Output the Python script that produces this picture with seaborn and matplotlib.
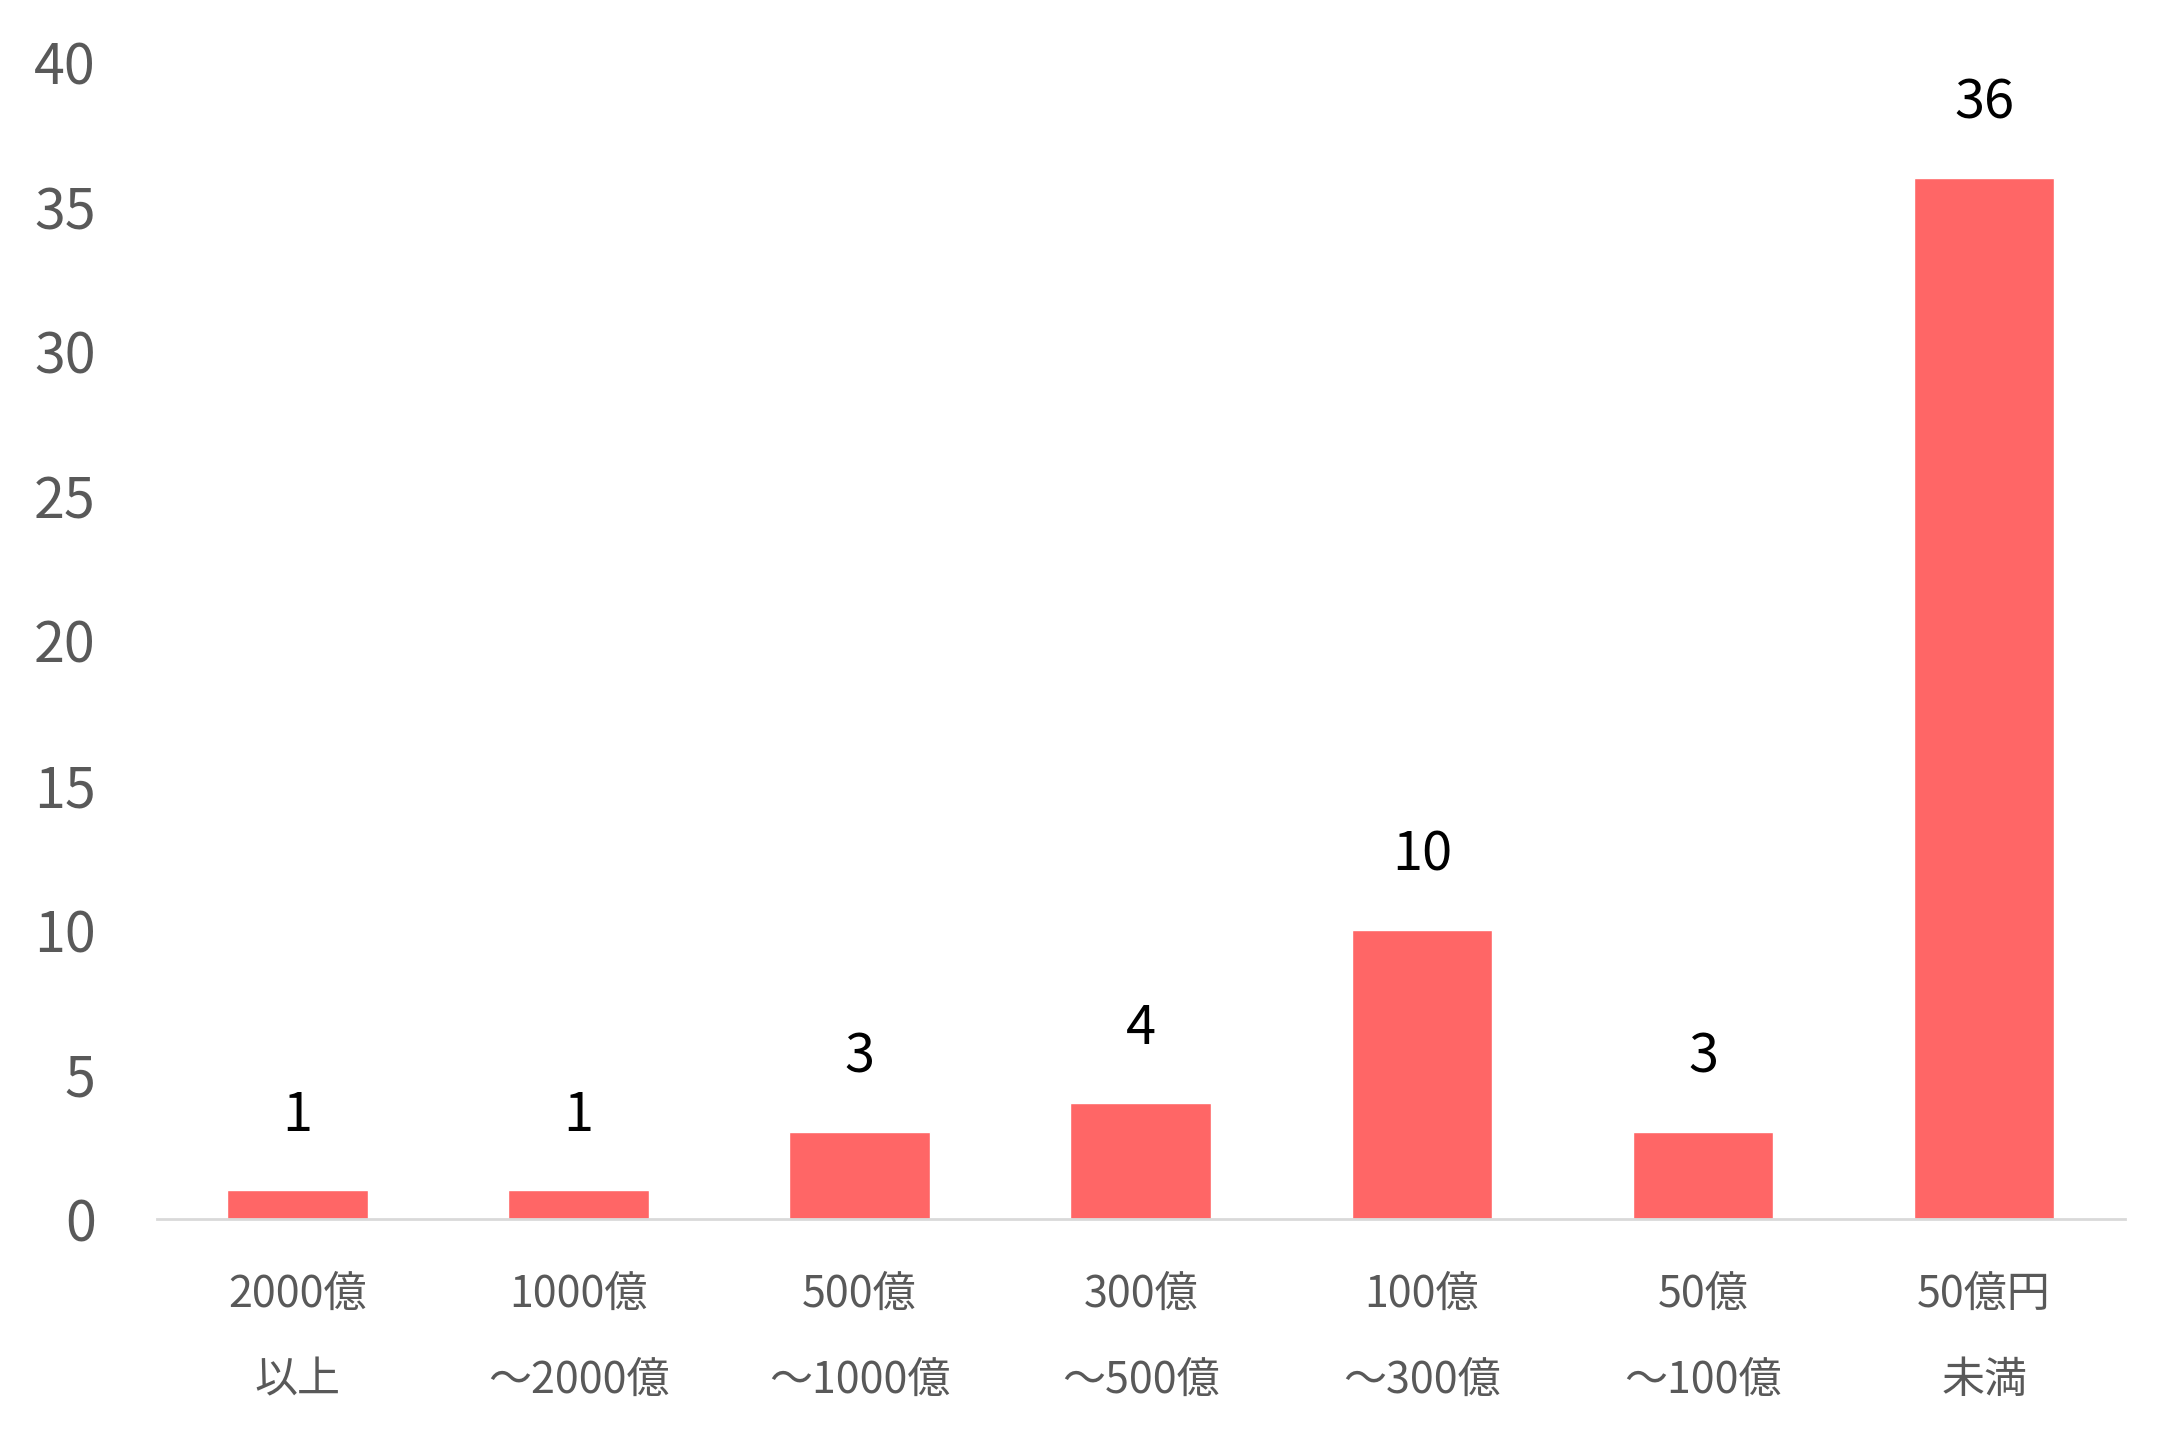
import matplotlib
matplotlib.use("Agg")
import matplotlib.pyplot as plt
import seaborn as sns
import pandas as pd

categories = ["2000億\n以上", "1000億\n～2000億", "500億\n～1000億", "300億\n～500億",
              "100億\n～300億", "50億\n～100億", "50億円\n未満"]
counts = [1, 1, 3, 4, 10, 3, 36]
y_ticks = [0, 5, 10, 15, 20, 25, 30, 35, 40]

sns.set_theme(style="white")
plt.rcParams['font.family'] = ['Noto Sans CJK JP', 'DejaVu Sans']

df = pd.DataFrame({"cat": categories, "n": counts})

fig = plt.figure(figsize=(21.77, 14.49), dpi=100)
ax = fig.add_axes([0.072, 0.1587, 0.904, 0.7983])
sns.barplot(data=df, x="cat", y="n", color="#FF6666", saturation=1, width=0.5, ax=ax)

ax.set_xlim(-0.5, len(categories) - 0.5)
ax.set_ylim(0, 40)
ax.set_yticks(y_ticks)
ax.set_xlabel("")
ax.set_ylabel("")
for s in ["top", "right", "left"]:
    ax.spines[s].set_visible(False)
ax.spines["bottom"].set_color("#D9D9D9")
ax.spines["bottom"].set_linewidth(2)

ax.tick_params(axis="y", length=0, pad=44, labelsize=40, labelcolor="#595959")
ax.tick_params(axis="x", length=0, pad=39, labelsize=31, labelcolor="#595959")
for lab in ax.get_xticklabels():
    lab.set_linespacing(2.22)

for i, v in enumerate(counts):
    ax.annotate(str(v), xy=(i, v), xytext=(0, 54), textcoords="offset points",
                ha="center", va="center", fontsize=39, color="black")

fig.savefig("out.png", dpi=100, facecolor="white")
